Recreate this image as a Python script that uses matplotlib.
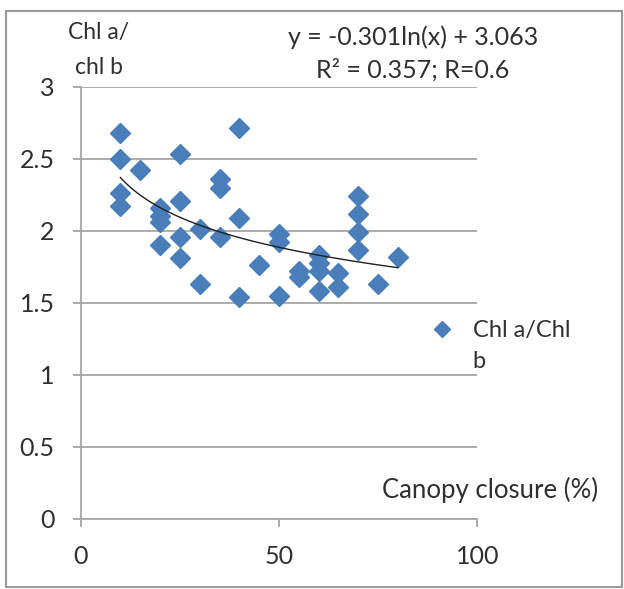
import numpy as np
import matplotlib
matplotlib.use("Agg")
import matplotlib.pyplot as plt
from matplotlib.patches import Rectangle

plt.rcParams['font.family'] = ['Lato', 'DejaVu Sans']

# canopy closure (%) and Chl a / Chl b ratio
canopy = [10, 10, 10, 10, 15, 20, 20, 20, 20, 25, 25, 25, 25, 30, 30,
          35, 35, 35, 40, 40, 40, 45, 50, 50, 50, 55, 55, 60, 60, 60, 60,
          65, 65, 70, 70, 70, 70, 75, 80]
chl_ratio = [2.68, 2.50, 2.26, 2.17, 2.42, 2.16, 2.10, 2.06, 1.90,
             2.53, 2.21, 1.96, 1.81, 2.01, 1.63, 2.36, 2.30, 1.96,
             2.71, 2.09, 1.54, 1.76, 1.98, 1.92, 1.55, 1.72, 1.68,
             1.83, 1.78, 1.72, 1.58, 1.71, 1.61, 2.24, 2.12, 1.99,
             1.87, 1.63, 1.82]

# logarithmic trend line shown on the chart
trend_a = -0.301
trend_b = 3.063

W, H = 624, 589
fig = plt.figure(figsize=(W / 100, H / 100), dpi=100)

def fx(px):
    return px / W

def fy(py):
    return 1 - py / H

# outer frame
fig.patches.append(Rectangle((fx(6), fy(587)), fx(622) - fx(6), fy(11) - fy(587),
                             transform=fig.transFigure, fill=False,
                             edgecolor='#9a9a9a', linewidth=1.5))

ax = fig.add_axes([fx(80.7), fy(519), fx(477.3) - fx(80.7), fy(86.7) - fy(519)])

blue = '#4a7ebb'
grey = '#a6a6a6'
txt = '#303030'

ax.plot(canopy, chl_ratio, linestyle='none', marker='D', markersize=10,
        color=blue, markeredgecolor=blue, label='Chl a/Chl', zorder=3)

xt = np.linspace(min(canopy), max(canopy), 100)
ax.plot(xt, trend_a * np.log(xt) + trend_b, color='#202020', linewidth=1.0, zorder=4)

ax.set_xlim(0, 100)
ax.set_ylim(0, 3)
ax.set_xticks([0, 50, 100])
ax.set_yticks([0, 0.5, 1, 1.5, 2, 2.5, 3])
ax.set_yticklabels(['0', '0.5', '1', '1.5', '2', '2.5', '3'])
ax.yaxis.grid(True, color=grey, linewidth=1.3)
ax.set_axisbelow(True)
for s in ['top', 'right']:
    ax.spines[s].set_visible(False)
for s in ['left', 'bottom']:
    ax.spines[s].set_color(grey)
    ax.spines[s].set_linewidth(1.3)
ax.tick_params(axis='both', direction='out', length=5.8, width=1.3, color=grey,
               labelsize=18, labelcolor=txt)
ax.tick_params(axis='y', pad=13)
ax.tick_params(axis='x', pad=13)

ax.legend(loc='center left', bbox_to_anchor=(fx(409), fy(331)),
          bbox_transform=fig.transFigure, frameon=False, fontsize=17,
          labelcolor=txt, markerscale=0.8, handlelength=1.0, handletextpad=0.8,
          numpoints=1)
fig.text(fx(472), fy(362), 'b', fontsize=17, color=txt, va='center', ha='left')

fig.text(fx(68), fy(33), 'Chl a/', fontsize=16.5, color=txt, va='center', ha='left')
fig.text(fx(75), fy(68), 'chl b', fontsize=16.5, color=txt, va='center', ha='left')
fig.text(fx(413), fy(37), 'y = -0.301ln(x) + 3.063', fontsize=18, color=txt,
         va='center', ha='center')
fig.text(fx(413), fy(70), 'R² = 0.357; R=0.6', fontsize=18, color=txt,
         va='center', ha='center')
fig.text(fx(598), fy(490), 'Canopy closure (%)', fontsize=18.5, color=txt,
         va='center', ha='right')

fig.savefig('out.png', dpi=100)
